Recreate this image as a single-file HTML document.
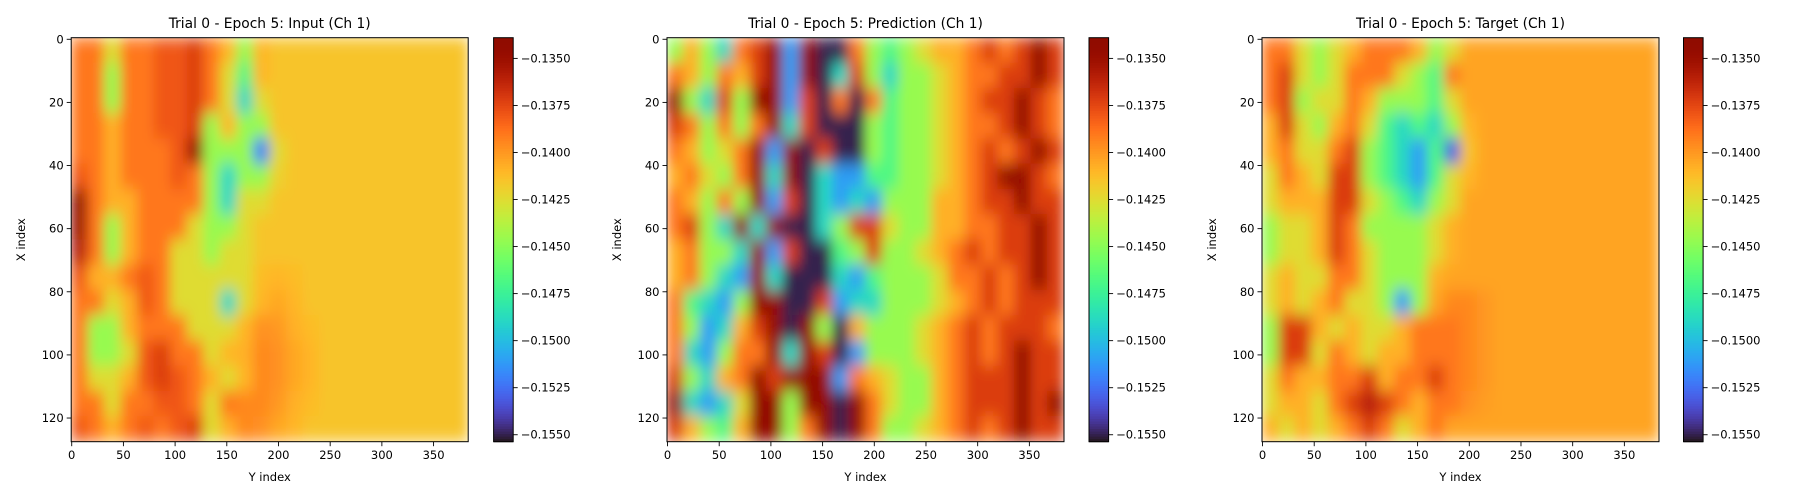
<!DOCTYPE html>
<html><head><meta charset="utf-8"><style>
html,body{margin:0;padding:0;background:#fff;}
svg{display:block;font-family:"DejaVu Sans","Liberation Sans",sans-serif;}
</style></head><body>
<svg id="fig" width="1800" height="500" viewBox="0 0 1800 500" xmlns="http://www.w3.org/2000/svg">
<defs>
<filter id="blur" x="0" y="0" width="1" height="1"><feGaussianBlur stdDeviation="6 8" edgeMode="duplicate"/></filter>
</defs>
</svg>
<script>
// shared scale
const vMin = -0.15537, vMax = -0.13390;
const cbTicks = [-0.1350,-0.1375,-0.1400,-0.1425,-0.1450,-0.1475,-0.1500,-0.1525,-0.1550];
const cbTickLabels = ["\u22120.1350","\u22120.1375","\u22120.1400","\u22120.1425","\u22120.1450","\u22120.1475","\u22120.1500","\u22120.1525","\u22120.1550"];
const xTicks = [0,50,100,150,200,250,300,350];
const yTicks = [0,20,40,60,80,100,120];
const nCols = 384, nRows = 128, cellW = 16, cellH = 8;
const titles = ["Trial 0 - Epoch 5: Input (Ch 1)","Trial 0 - Epoch 5: Prediction (Ch 1)","Trial 0 - Epoch 5: Target (Ch 1)"];
// values in units of 1e-4
const inputGrid = [
[-1390,-1390,-1425,-1390,-1390,-1380,-1380,-1372,-1390,-1410,-1446,-1410,-1415,-1415,-1415,-1415,-1415,-1415,-1415,-1415,-1415,-1415,-1415,-1415],
[-1390,-1390,-1446,-1390,-1390,-1380,-1380,-1372,-1390,-1425,-1468,-1410,-1415,-1415,-1415,-1415,-1415,-1415,-1415,-1415,-1415,-1415,-1415,-1415],
[-1390,-1390,-1446,-1390,-1390,-1380,-1380,-1372,-1390,-1425,-1489,-1425,-1415,-1415,-1415,-1415,-1415,-1415,-1415,-1415,-1415,-1415,-1415,-1415],
[-1390,-1390,-1408,-1390,-1390,-1380,-1380,-1372,-1446,-1410,-1446,-1446,-1415,-1415,-1415,-1415,-1415,-1415,-1415,-1415,-1415,-1415,-1415,-1415],
[-1390,-1390,-1408,-1390,-1390,-1390,-1380,-1346,-1446,-1446,-1446,-1520,-1425,-1415,-1415,-1415,-1415,-1415,-1415,-1415,-1415,-1415,-1415,-1415],
[-1380,-1390,-1408,-1390,-1390,-1390,-1380,-1390,-1446,-1489,-1446,-1446,-1420,-1415,-1415,-1415,-1415,-1415,-1415,-1415,-1415,-1415,-1415,-1415],
[-1346,-1390,-1408,-1408,-1390,-1390,-1390,-1390,-1446,-1489,-1425,-1425,-1415,-1415,-1415,-1415,-1415,-1415,-1415,-1415,-1415,-1415,-1415,-1415],
[-1350,-1390,-1446,-1408,-1390,-1390,-1390,-1425,-1446,-1446,-1425,-1415,-1415,-1415,-1415,-1415,-1415,-1415,-1415,-1415,-1415,-1415,-1415,-1415],
[-1360,-1390,-1446,-1408,-1390,-1390,-1425,-1425,-1446,-1425,-1425,-1415,-1415,-1415,-1415,-1415,-1415,-1415,-1415,-1415,-1415,-1415,-1415,-1415],
[-1380,-1408,-1408,-1390,-1380,-1390,-1425,-1425,-1425,-1425,-1425,-1412,-1410,-1412,-1415,-1415,-1415,-1415,-1415,-1415,-1415,-1415,-1415,-1415],
[-1390,-1390,-1425,-1408,-1380,-1390,-1425,-1425,-1425,-1489,-1425,-1410,-1405,-1410,-1415,-1415,-1415,-1415,-1415,-1415,-1415,-1415,-1415,-1415],
[-1390,-1446,-1446,-1408,-1390,-1390,-1390,-1425,-1425,-1425,-1410,-1398,-1400,-1408,-1412,-1415,-1415,-1415,-1415,-1415,-1415,-1415,-1415,-1415],
[-1390,-1446,-1446,-1425,-1380,-1372,-1390,-1390,-1425,-1410,-1408,-1395,-1398,-1405,-1410,-1415,-1415,-1415,-1415,-1415,-1415,-1415,-1415,-1415],
[-1390,-1425,-1425,-1408,-1380,-1372,-1380,-1390,-1408,-1425,-1410,-1395,-1398,-1405,-1410,-1415,-1415,-1415,-1415,-1415,-1415,-1415,-1415,-1415],
[-1390,-1390,-1425,-1390,-1390,-1380,-1380,-1390,-1425,-1390,-1395,-1395,-1400,-1408,-1412,-1415,-1415,-1415,-1415,-1415,-1415,-1415,-1415,-1415],
[-1380,-1390,-1408,-1390,-1380,-1390,-1380,-1372,-1425,-1408,-1395,-1398,-1405,-1410,-1415,-1415,-1415,-1415,-1415,-1415,-1415,-1415,-1415,-1415]
];
const predGrid = [
[-1446,-1408,-1446,-1489,-1390,-1372,-1346,-1511,-1346,-1550,-1550,-1390,-1446,-1468,-1446,-1425,-1408,-1408,-1390,-1372,-1390,-1372,-1346,-1372],
[-1390,-1408,-1446,-1390,-1408,-1372,-1346,-1511,-1346,-1550,-1489,-1372,-1446,-1489,-1446,-1446,-1425,-1408,-1390,-1390,-1372,-1372,-1346,-1372],
[-1346,-1446,-1489,-1372,-1446,-1346,-1346,-1511,-1372,-1550,-1390,-1550,-1390,-1468,-1446,-1446,-1425,-1408,-1390,-1372,-1372,-1346,-1372,-1390],
[-1372,-1390,-1446,-1390,-1446,-1390,-1346,-1489,-1372,-1550,-1550,-1550,-1446,-1468,-1446,-1446,-1425,-1408,-1390,-1390,-1372,-1346,-1372,-1390],
[-1390,-1408,-1446,-1425,-1390,-1346,-1511,-1346,-1550,-1372,-1550,-1550,-1446,-1468,-1446,-1446,-1425,-1408,-1390,-1372,-1390,-1372,-1346,-1372],
[-1408,-1390,-1425,-1446,-1390,-1346,-1489,-1346,-1550,-1489,-1511,-1511,-1468,-1468,-1446,-1446,-1425,-1408,-1390,-1372,-1346,-1346,-1372,-1390],
[-1390,-1408,-1446,-1390,-1446,-1346,-1511,-1372,-1550,-1489,-1511,-1489,-1511,-1446,-1446,-1446,-1408,-1408,-1390,-1372,-1372,-1346,-1372,-1372],
[-1390,-1372,-1446,-1489,-1346,-1489,-1346,-1550,-1550,-1489,-1446,-1372,-1372,-1425,-1446,-1446,-1408,-1408,-1390,-1390,-1372,-1372,-1346,-1372],
[-1408,-1390,-1446,-1446,-1489,-1346,-1511,-1372,-1550,-1550,-1468,-1446,-1372,-1446,-1446,-1425,-1408,-1390,-1372,-1390,-1372,-1372,-1346,-1372],
[-1408,-1390,-1446,-1489,-1511,-1346,-1489,-1550,-1550,-1550,-1489,-1511,-1468,-1446,-1446,-1446,-1425,-1390,-1390,-1372,-1390,-1372,-1346,-1372],
[-1390,-1468,-1489,-1511,-1446,-1346,-1346,-1550,-1550,-1372,-1511,-1489,-1489,-1446,-1446,-1446,-1425,-1408,-1390,-1372,-1390,-1372,-1372,-1372],
[-1390,-1446,-1511,-1489,-1408,-1372,-1346,-1550,-1346,-1446,-1550,-1408,-1446,-1446,-1446,-1425,-1408,-1390,-1372,-1390,-1372,-1372,-1372,-1390],
[-1390,-1489,-1511,-1446,-1390,-1390,-1346,-1489,-1346,-1372,-1550,-1511,-1446,-1446,-1446,-1425,-1408,-1390,-1372,-1390,-1372,-1346,-1372,-1372],
[-1372,-1446,-1489,-1408,-1390,-1346,-1372,-1346,-1346,-1346,-1511,-1390,-1408,-1425,-1446,-1446,-1408,-1390,-1372,-1372,-1372,-1346,-1372,-1372],
[-1346,-1489,-1511,-1489,-1425,-1346,-1346,-1446,-1346,-1346,-1550,-1346,-1390,-1425,-1446,-1446,-1408,-1390,-1372,-1372,-1372,-1346,-1372,-1346],
[-1372,-1408,-1446,-1468,-1408,-1346,-1346,-1446,-1390,-1346,-1550,-1346,-1390,-1446,-1446,-1425,-1408,-1390,-1372,-1390,-1372,-1346,-1372,-1372]
];
const targetGrid = [
[-1390,-1390,-1425,-1446,-1425,-1408,-1390,-1390,-1390,-1408,-1446,-1425,-1404,-1404,-1404,-1404,-1404,-1404,-1404,-1404,-1404,-1404,-1404,-1404],
[-1390,-1372,-1425,-1446,-1425,-1390,-1390,-1390,-1425,-1446,-1468,-1390,-1404,-1404,-1404,-1404,-1404,-1404,-1404,-1404,-1404,-1404,-1404,-1404],
[-1390,-1372,-1446,-1425,-1425,-1390,-1408,-1446,-1446,-1446,-1468,-1425,-1404,-1404,-1404,-1404,-1404,-1404,-1404,-1404,-1404,-1404,-1404,-1404],
[-1408,-1372,-1425,-1446,-1408,-1390,-1425,-1468,-1489,-1468,-1489,-1446,-1410,-1404,-1404,-1404,-1404,-1404,-1404,-1404,-1404,-1404,-1404,-1404],
[-1408,-1390,-1425,-1425,-1390,-1372,-1446,-1468,-1489,-1511,-1468,-1530,-1415,-1404,-1404,-1404,-1404,-1404,-1404,-1404,-1404,-1404,-1404,-1404],
[-1425,-1390,-1408,-1425,-1372,-1372,-1446,-1468,-1489,-1511,-1468,-1425,-1410,-1404,-1404,-1404,-1404,-1404,-1404,-1404,-1404,-1404,-1404,-1404],
[-1425,-1408,-1408,-1408,-1372,-1372,-1425,-1446,-1468,-1489,-1446,-1425,-1404,-1404,-1404,-1404,-1404,-1404,-1404,-1404,-1404,-1404,-1404,-1404],
[-1446,-1425,-1425,-1408,-1372,-1390,-1446,-1446,-1446,-1446,-1425,-1408,-1404,-1404,-1404,-1404,-1404,-1404,-1404,-1404,-1404,-1404,-1404,-1404],
[-1446,-1425,-1425,-1408,-1372,-1390,-1425,-1446,-1446,-1446,-1425,-1408,-1404,-1404,-1404,-1404,-1404,-1404,-1404,-1404,-1404,-1404,-1404,-1404],
[-1425,-1408,-1425,-1425,-1390,-1390,-1425,-1446,-1446,-1446,-1408,-1404,-1404,-1404,-1404,-1404,-1404,-1404,-1404,-1404,-1404,-1404,-1404,-1404],
[-1425,-1408,-1425,-1408,-1390,-1425,-1425,-1446,-1511,-1446,-1404,-1395,-1395,-1400,-1404,-1404,-1404,-1404,-1404,-1404,-1404,-1404,-1404,-1404],
[-1446,-1372,-1372,-1408,-1425,-1408,-1425,-1425,-1408,-1390,-1390,-1390,-1395,-1400,-1404,-1404,-1404,-1404,-1404,-1404,-1404,-1404,-1404,-1404],
[-1446,-1372,-1372,-1425,-1390,-1408,-1425,-1408,-1408,-1390,-1390,-1390,-1395,-1400,-1404,-1404,-1404,-1404,-1404,-1404,-1404,-1404,-1404,-1404],
[-1425,-1390,-1408,-1408,-1390,-1390,-1372,-1408,-1390,-1390,-1372,-1390,-1395,-1400,-1404,-1404,-1404,-1404,-1404,-1404,-1404,-1404,-1404,-1404],
[-1425,-1408,-1408,-1425,-1390,-1372,-1360,-1372,-1390,-1408,-1390,-1390,-1398,-1402,-1404,-1404,-1404,-1404,-1404,-1404,-1404,-1404,-1404,-1404],
[-1408,-1425,-1408,-1425,-1408,-1390,-1372,-1390,-1425,-1408,-1390,-1404,-1404,-1404,-1404,-1404,-1404,-1404,-1404,-1404,-1404,-1404,-1404,-1404]
];
const grids = [inputGrid, predGrid, targetGrid];

const NS = "http://www.w3.org/2000/svg";
const svg = document.getElementById('fig');
const panelLeft = [71.2, 667, 1262];
const cbLeft = [493.6, 1089, 1683.5];
const axTop = 37.7, axH = 404, axW = 397, cbW = 19.6;

function turbo(t){
  t = Math.max(0, Math.min(1, t));
  const r = 0.13572138 + t*(4.61539260 + t*(-42.66032258 + t*(132.13108234 + t*(-152.94239396 + t*59.28637943))));
  const g = 0.09140261 + t*(2.19418839 + t*(4.84296658 + t*(-14.18503333 + t*(4.27729857 + t*2.82956604))));
  const b = 0.10667330 + t*(12.64194608 + t*(-60.58204836 + t*(110.36276771 + t*(-89.90310912 + t*27.34824973))));
  const c = v => Math.round(255*Math.max(0, Math.min(1, v)));
  return `rgb(${c(r)},${c(g)},${c(b)})`;
}
function colorOf(v){ return turbo((v - vMin)/(vMax - vMin)); }
function el(tag, attrs, parent){
  const e = document.createElementNS(NS, tag);
  for (const k in attrs) e.setAttribute(k, attrs[k]);
  (parent || svg).appendChild(e);
  return e;
}

for (let p = 0; p < 3; p++){
  const L = panelLeft[p];
  const xs = u => L + (u + 0.5) * axW / nCols;
  const ys = u => axTop + (u + 0.5) * axH / nRows;
  const grid = grids[p];

  const clip = el('clipPath', {id: 'clip' + p});
  el('rect', {x: L, y: axTop, width: axW, height: axH}, clip);

  const outer = el('g', {'clip-path': `url(#clip${p})`});
  
  
  const inner = el('g', {filter: 'url(#blur)'}, outer);
  for (let r = 0; r < grid.length; r++){
    for (let c = 0; c < grid[r].length; c++){
      const x0 = xs(c*cellW - 0.5), x1 = xs((c+1)*cellW - 0.5);
      const y0 = ys(r*cellH - 0.5), y1 = ys((r+1)*cellH - 0.5);
      const cell = el('rect', {x: x0 - 0.3, y: y0 - 0.3, width: x1 - x0 + 0.6, height: y1 - y0 + 0.6, fill: colorOf(grid[r][c] * 1e-4)}, inner);
      
      
    }
  }
  const frame = el('rect', {x: L, y: axTop, width: axW, height: axH, fill: 'none', stroke: '#000', 'stroke-width': 1});
  
  

  const title = el('text', {x: L + axW/2, y: 28, 'text-anchor': 'middle', 'font-size': 13.8, fill: '#000'});
  title.textContent = titles[p];
  
  

  const bot = axTop + axH;
  xTicks.forEach(t => {
    const x = xs(t);
    el('line', {x1: x, x2: x, y1: bot, y2: bot + 4.5, stroke: '#000', 'stroke-width': 0.9});
    const tl = el('text', {x: x, y: bot + 17.5, 'text-anchor': 'middle', 'font-size': 11.5});
    tl.textContent = t;
    
    
  });
  yTicks.forEach(t => {
    const y = ys(t);
    el('line', {x1: L - 4.5, x2: L, y1: y, y2: y, stroke: '#000', 'stroke-width': 0.9});
    const tl = el('text', {x: L - 7.5, y: y + 4, 'text-anchor': 'end', 'font-size': 11.5});
    tl.textContent = t;
    
    
  });
  const xl = el('text', {x: L + axW/2, y: 481, 'text-anchor': 'middle', 'font-size': 11.5});
  xl.textContent = 'Y index';
  
  
  const yl = el('text', {x: 0, y: 0, 'text-anchor': 'middle', 'font-size': 11.5, transform: `translate(${L - 46},${axTop + axH/2}) rotate(-90)`});
  yl.textContent = 'X index';
  
  

  // colorbar
  const CL = cbLeft[p];
  const cy = v => axTop + axH * (vMax - v) / (vMax - vMin);
  const cb = el('g', {});
  
  
  const steps = 160;
  for (let i = 0; i < steps; i++){
    const v0 = vMax - (vMax - vMin) * i / steps, v1 = vMax - (vMax - vMin) * (i+1) / steps;
    el('rect', {x: CL, y: cy(v0), width: cbW, height: cy(v1) - cy(v0) + 0.5, fill: colorOf((v0 + v1)/2)}, cb);
  }
  el('rect', {x: CL, y: axTop, width: cbW, height: axH, fill: 'none', stroke: '#000', 'stroke-width': 1}, cb);
  cbTicks.forEach((t, i) => {
    const y = cy(t);
    el('line', {x1: CL + cbW, x2: CL + cbW + 4.5, y1: y, y2: y, stroke: '#000', 'stroke-width': 0.9});
    const tl = el('text', {x: CL + cbW + 7.5, y: y + 4, 'font-size': 11.5});
    tl.textContent = cbTickLabels[i];
    
    
  });
}
</script>
</body></html>
